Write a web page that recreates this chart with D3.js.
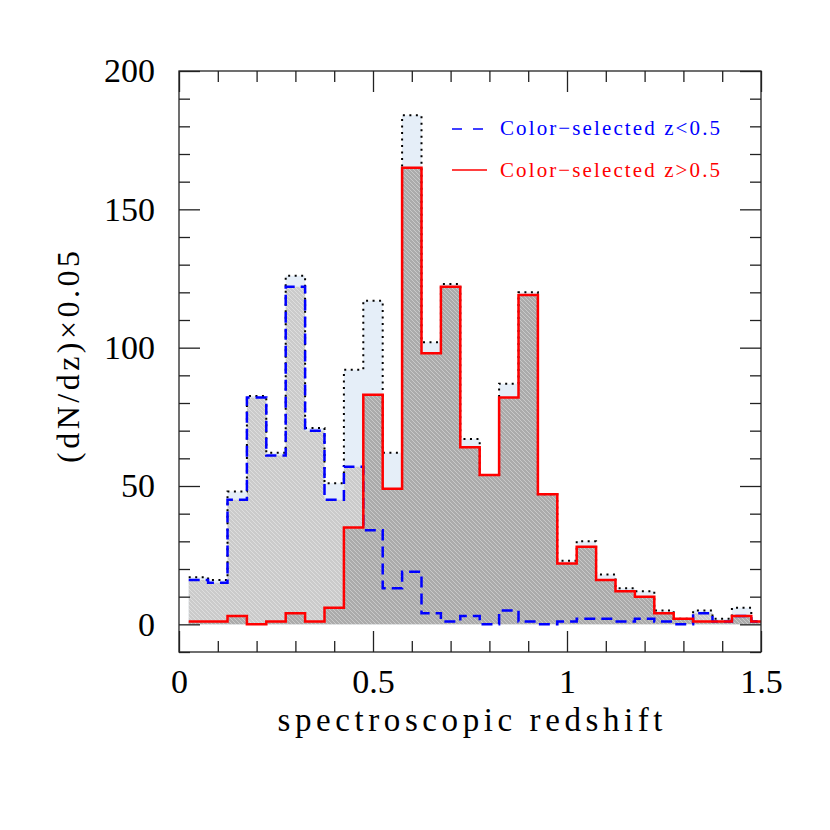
<!DOCTYPE html>
<html>
  <head>
    <meta charset="utf-8">
    <title>Redshift histogram</title>
    <script src="https://d3js.org/d3.v7.min.js"></script>
    <style>
      body { margin: 0; background: #fff; }
      text { font-family: "Liberation Serif", "DejaVu Serif", serif; }
    </style>
  </head>
  <body>
    <script>
      // Bin centres (dz = 0.05) and counts
      var binCenters = [0.05, 0.10, 0.15, 0.20, 0.25, 0.30, 0.35, 0.40, 0.45, 0.50,
                        0.55, 0.60, 0.65, 0.70, 0.75, 0.80, 0.85, 0.90, 0.95, 1.00,
                        1.05, 1.10, 1.15, 1.20, 1.25, 1.30, 1.35, 1.40, 1.45, 1.50];
      var binWidth = 0.05;
      var totalCounts = [17, 16, 48, 82.5, 62, 126, 71, 51, 92, 117,
                         62, 184, 102, 123, 67, 54, 87, 120, 47, 23,
                         30, 18, 13, 12, 5, 2, 5, 2, 6, 1];
      var lowZCounts  = [16, 15, 45, 82, 61, 122, 70, 45, 57, 34,
                         13, 19, 4, 1, 3, 0, 5, 1, 0, 1,
                         2, 2, 1, 2, 1, 0, 4, 1, 3, 1];
      var highZCounts = [1, 1, 3, 0, 1, 4, 1, 6, 35, 83,
                         49, 165, 98, 122, 64, 54, 82, 119, 47, 22,
                         28, 16, 12, 10, 4, 2, 1, 1, 3, 1];
      var xTicksMajor = [0, 0.5, 1, 1.5];
      var xTicksMinor = [0.1, 0.2, 0.3, 0.4, 0.6, 0.7, 0.8, 0.9, 1.1, 1.2, 1.3, 1.4];
      var yTicksMajor = [0, 50, 100, 150, 200];
      var yTicksMinor = [-10, 10, 20, 30, 40, 60, 70, 80, 90, 110, 120, 130, 140,
                         160, 170, 180, 190];
      var legendLabels = ["Color\u2212selected z<0.5", "Color\u2212selected z>0.5"];

      var margin = {top: 71, right: 69, bottom: 178, left: 179};
      var width = 830 - margin.left - margin.right;
      var height = 830 - margin.top - margin.bottom;

      var svgRoot = d3.select("body").append("svg")
          .attr("width", 830)
          .attr("height", 830);

      var defs = svgRoot.append("defs");
      function hatch(id, base) {
        var p = defs.append("pattern")
            .attr("id", id)
            .attr("patternUnits", "userSpaceOnUse")
            .attr("width", 4).attr("height", 4);
        p.append("rect").attr("width", 4).attr("height", 4).attr("fill", base);
        p.append("path")
            .attr("d", "M-1,-1 L5,5 M-1,3 L1,5 M3,-1 L5,1")
            .attr("stroke", "#fff").attr("stroke-opacity", 0.45)
            .attr("stroke-width", 0.8);
      }
      hatch("hatchLight", "#cbcbcb");
      hatch("hatchDark", "#ababab");

      defs.append("clipPath").attr("id", "plotClip")
        .append("rect").attr("width", width).attr("height", height);

      var svg = svgRoot.append("g")
          .attr("transform", "translate(" + margin.left + "," + margin.top + ")");

      var x = d3.scaleLinear().domain([0, 1.5]).range([0, width]);
      var y = d3.scaleLinear().domain([-10, 200]).range([height, 0]);

      // turn counts into step points (left edge of each bin + closing edge)
      function steps(counts) {
        var pts = binCenters.map(function(c, i) {
          return {x: c - binWidth / 2, v: counts[i]};
        });
        var last = binCenters.length - 1;
        pts.push({x: binCenters[last] + binWidth / 2, v: counts[last]});
        return pts;
      }

      var area = d3.area()
          .curve(d3.curveStepAfter)
          .x(function(d) { return x(d.x); })
          .y0(y(0))
          .y1(function(d) { return y(d.v); });

      var line = d3.line()
          .curve(d3.curveStepAfter)
          .x(function(d) { return x(d.x); })
          .y(function(d) { return y(d.v); });

      var plot = svg.append("g").attr("clip-path", "url(#plotClip)");

      // fills
      plot.append("path").attr("d", area(steps(totalCounts))).attr("fill", "#e5eef8");
      plot.append("path").attr("d", area(steps(lowZCounts))).attr("fill", "url(#hatchLight)");
      plot.append("path").attr("d", area(steps(highZCounts))).attr("fill", "url(#hatchDark)");

      // outlines
      plot.append("path").attr("d", line(steps(totalCounts)))
          .attr("fill", "none").attr("stroke", "#000")
          .attr("stroke-width", 2).attr("stroke-dasharray", "2 4.5");
      plot.append("path").attr("d", line(steps(lowZCounts)))
          .attr("fill", "none").attr("stroke", "#0000ff")
          .attr("stroke-width", 2.5).attr("stroke-dasharray", "11 6");
      plot.append("path").attr("d", line(steps(highZCounts)))
          .attr("fill", "none").attr("stroke", "#ff0000")
          .attr("stroke-width", 2.5);

      // axes with inward ticks on all four sides
      function styleAxis(g) {
        g.selectAll("line").attr("stroke", "#222").attr("stroke-width", 1.3);
        g.selectAll("path").remove();
        g.selectAll("text").attr("fill", "#000").style("font-size", "34px")
          .style("font-family", "'Liberation Serif', serif");
      }

      svg.append("g").attr("transform", "translate(0," + height + ")")
         .call(d3.axisBottom(x).tickValues(xTicksMinor).tickSize(-11).tickFormat(""))
         .call(styleAxis);
      svg.append("g").attr("transform", "translate(0," + height + ")")
         .call(d3.axisBottom(x).tickValues(xTicksMajor).tickSize(-21).tickPadding(17)
               .tickFormat(function(d) { return d; }))
         .call(styleAxis);
      svg.append("g")
         .call(d3.axisTop(x).tickValues(xTicksMinor).tickSize(-11).tickFormat(""))
         .call(styleAxis);
      svg.append("g")
         .call(d3.axisTop(x).tickValues(xTicksMajor).tickSize(-21).tickFormat(""))
         .call(styleAxis);

      svg.append("g")
         .call(d3.axisLeft(y).tickValues(yTicksMinor).tickSize(-11).tickFormat(""))
         .call(styleAxis);
      svg.append("g")
         .call(d3.axisLeft(y).tickValues(yTicksMajor).tickSize(-21).tickPadding(24))
         .call(styleAxis);
      svg.append("g").attr("transform", "translate(" + width + ",0)")
         .call(d3.axisRight(y).tickValues(yTicksMinor).tickSize(-11).tickFormat(""))
         .call(styleAxis);
      svg.append("g").attr("transform", "translate(" + width + ",0)")
         .call(d3.axisRight(y).tickValues(yTicksMajor).tickSize(-21).tickFormat(""))
         .call(styleAxis);

      // frame
      svg.append("rect")
         .attr("width", width).attr("height", height)
         .attr("fill", "none").attr("stroke", "#222").attr("stroke-width", 1.3);

      // axis titles
      svg.append("text")
         .attr("x", width / 2).attr("y", height + 79)
         .attr("text-anchor", "middle")
         .attr("textLength", 385).attr("lengthAdjust", "spacing")
         .style("font-size", "33px")
         .text("spectroscopic redshift");

      svg.append("text")
         .attr("transform", "translate(-100," + (357 - margin.top) + ") rotate(-90)")
         .attr("text-anchor", "middle")
         .attr("textLength", 212).attr("lengthAdjust", "spacing")
         .style("font-size", "32px")
         .text("(dN/dz)\u00d70.05");

      // legend
      var legend = svg.append("g").attr("transform", "translate(" + (452 - margin.left) + ",0)");
      legend.append("line")
         .attr("x1", 0).attr("x2", 32).attr("y1", 129 - margin.top).attr("y2", 129 - margin.top)
         .attr("stroke", "#0000ff").attr("stroke-width", 1.5).attr("stroke-dasharray", "10 11");
      legend.append("line")
         .attr("x1", 0).attr("x2", 35).attr("y1", 170 - margin.top).attr("y2", 170 - margin.top)
         .attr("stroke", "#ff0000").attr("stroke-width", 1.5);
      legend.append("text")
         .attr("x", 48).attr("y", 135 - margin.top)
         .attr("fill", "#0000ff")
         .attr("textLength", 220).attr("lengthAdjust", "spacing")
         .style("font-size", "21px")
         .text(legendLabels[0]);
      legend.append("text")
         .attr("x", 48).attr("y", 177 - margin.top)
         .attr("fill", "#ff0000")
         .attr("textLength", 220).attr("lengthAdjust", "spacing")
         .style("font-size", "21px")
         .text(legendLabels[1]);
    </script>
  </body>
</html>
